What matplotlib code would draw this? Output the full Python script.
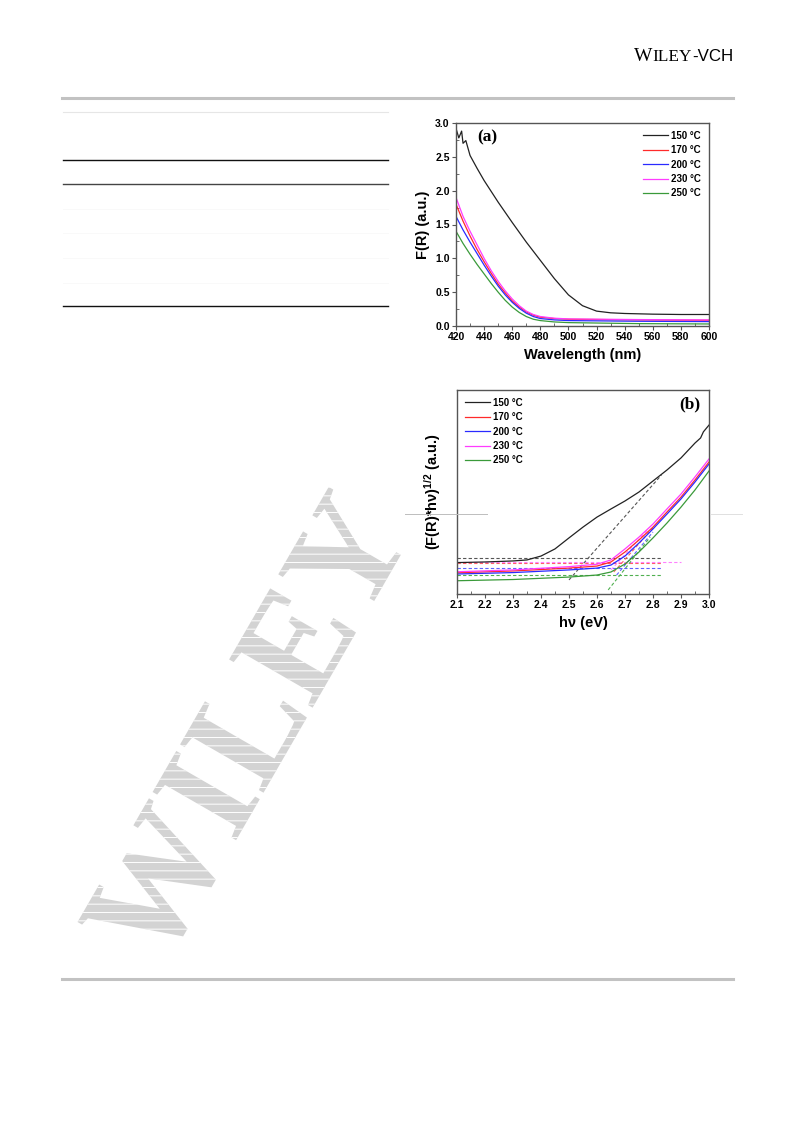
import matplotlib
matplotlib.use('Agg')
import matplotlib.pyplot as plt
import matplotlib.patheffects as pe
from matplotlib.lines import Line2D
from matplotlib.ticker import MultipleLocator

# ---------------- data ----------------
labels = ['150 °C', '170 °C', '200 °C', '230 °C', '250 °C']
colors = ['#222222', '#ff2a2a', '#2a2aff', '#ff3cff', '#3a9a3a']
fit_colors = ['#555555', '#ff6060', '#6060ff', '#ff80ff', '#50b050']

# panel (a): F(R) vs wavelength
wl_150 = [420, 422, 424, 425, 427, 430, 435, 440, 450, 460, 470, 480, 490, 500, 510, 520, 530, 540, 560, 580, 600]
fr_150 = [2.92, 2.78, 2.88, 2.70, 2.74, 2.52, 2.33, 2.15, 1.83, 1.53, 1.24, 0.97, 0.70, 0.46, 0.30, 0.22, 0.195, 0.185, 0.175, 0.17, 0.17]
wl_col = [420, 425, 430, 435, 440, 445, 450, 455, 460, 465, 470, 475, 480, 490, 500, 550, 600]
fr_170 = [1.80, 1.55, 1.33, 1.13, 0.95, 0.78, 0.62, 0.49, 0.37, 0.28, 0.21, 0.16, 0.13, 0.11, 0.10, 0.09, 0.085]
fr_200 = [1.62, 1.42, 1.24, 1.07, 0.90, 0.74, 0.59, 0.46, 0.35, 0.26, 0.19, 0.14, 0.11, 0.09, 0.08, 0.07, 0.065]
fr_230 = [1.90, 1.62, 1.40, 1.20, 1.00, 0.82, 0.66, 0.52, 0.40, 0.30, 0.22, 0.17, 0.14, 0.115, 0.105, 0.095, 0.09]
fr_250 = [1.40, 1.22, 1.06, 0.91, 0.77, 0.63, 0.50, 0.38, 0.28, 0.20, 0.14, 0.10, 0.08, 0.06, 0.05, 0.035, 0.03]

# panel (b): Tauc plot (arbitrary units)
ev_150 = [2.10, 2.20, 2.30, 2.35, 2.40, 2.45, 2.50, 2.55, 2.60, 2.65, 2.70, 2.75, 2.80, 2.85, 2.90, 2.95, 2.97, 2.98, 3.00]
t_150 = [15.4, 15.7, 16.2, 16.7, 18.6, 22.1, 27.5, 32.8, 37.7, 41.7, 45.6, 50.0, 55.4, 60.8, 66.7, 74.0, 76.5, 79.5, 82.8]
ev_col = [2.10, 2.30, 2.50, 2.60, 2.65, 2.70, 2.75, 2.80, 2.85, 2.90, 2.95, 3.00]
t_170 = [10.4, 11.3, 12.7, 13.7, 15.7, 20.6, 26.5, 32.8, 40.2, 47.5, 55.9, 64.7]
t_200 = [9.8, 10.5, 11.8, 12.7, 14.2, 18.6, 25.0, 31.9, 39.2, 46.6, 54.9, 63.7]
t_230 = [10.9, 11.8, 13.4, 14.6, 16.7, 22.1, 27.9, 34.3, 41.7, 49.0, 57.4, 66.2]
t_250 = [6.5, 7.1, 8.3, 9.3, 10.8, 14.7, 20.6, 27.5, 34.8, 42.6, 51.0, 60.3]

# baseline fits (x start, x end, level) and tangent fits ((x0, y0), (x1, y1))
base_x0 = [2.10, 2.10, 2.10, 2.10, 2.10]
base_x1 = [2.83, 2.83, 2.83, 2.90, 2.83]
base_y = [17.6, 15.2, 12.7, 15.9, 9.3]
tan_x0 = [2.50, 2.66, 2.67, 2.65, 2.64]
tan_y0 = [6.9, 10.8, 9.3, 11.8, 2.0]
tan_x1 = [2.83, 2.80, 2.80, 2.78, 2.79]
tan_y1 = [58.3, 32.4, 30.4, 31.4, 27.9]

# ---------------- style ----------------
plt.rcParams['font.family'] = ['Liberation Sans', 'DejaVu Sans']
plt.rcParams['mathtext.fontset'] = 'custom'
plt.rcParams['mathtext.rm'] = 'Liberation Sans:bold'
plt.rcParams['mathtext.it'] = 'Liberation Sans:bold'
plt.rcParams['mathtext.bf'] = 'Liberation Sans:bold'
plt.rcParams['mathtext.default'] = 'rm'
plt.rcParams['hatch.linewidth'] = 0.7

W, H = 793, 1121
fig = plt.figure(figsize=(W / 100, H / 100), dpi=100)
fig.patch.set_facecolor('white')


def fx(px):
    return px / W


def fy(py):
    return 1 - py / H


def hline(x0, x1, y, color, lw, z=5):
    fig.add_artist(Line2D([fx(x0), fx(x1)], [fy(y), fy(y)], color=color, lw=lw, zorder=z))


# page decorations
hline(62, 733, 97.5, '#c2c2c2', 2.2)
hline(63, 388, 111.5, '#e6e6e6', 0.8)
hline(63, 388, 159.5, '#111111', 1.0)
hline(63, 388, 184.5, '#444444', 1.0)
for yy in (209, 233, 258, 283):
    hline(63, 388, yy, '#f8f8f8', 0.6)
hline(63, 388, 306, '#111111', 1.0)
hline(62, 733, 979, '#c2c2c2', 2.2)

# watermark (real text, hatched fill)
fig.text(fx(160), fy(972), 'WILEY', family='Liberation Serif', fontweight='bold',
         fontsize=106, rotation=60, rotation_mode='anchor', ha='left', va='baseline',
         color='#d3d3d3', zorder=0,
         path_effects=[pe.PathPatchEffect(facecolor='#d3d3d3', edgecolor='white',
                                          linewidth=0, hatch='--')])

# header WILEY-VCH
r = fig.canvas.get_renderer()
pieces = [('W', 14.0, 'Liberation Serif'), ('ILEY', 12.4, 'Liberation Serif'), ('-VCH', 12.2, 'Liberation Sans')]
widths = []
for txt, fs, fam in pieces:
    t = fig.text(0, 0, txt, fontsize=fs, family=fam)
    widths.append(t.get_window_extent(r).width)
    t.remove()
x = 733.0 - sum(widths)
for (txt, fs, fam), w in zip(pieces, widths):
    fig.text(fx(x), fy(61), txt, fontsize=fs, family=fam, color='black', va='baseline', ha='left')
    x += w

tick_fs = 7.5
lab_fs = 10.5


def style_axes(ax):
    for s in ax.spines.values():
        s.set_color('#555555')
        s.set_linewidth(1.0)
    ax.tick_params(which='major', direction='out', length=3, width=0.8, color='#555555',
                   labelsize=tick_fs, pad=1.5, top=False, right=False)
    ax.tick_params(which='minor', direction='in', length=2, width=0.6, color='#555555',
                   top=False, right=False)
    for lbl in ax.get_xticklabels() + ax.get_yticklabels():
        lbl.set_fontweight('bold')


# ---------------- panel (a) ----------------
axa = fig.add_axes([fx(456), fy(326), (709 - 456) / W, (326 - 123) / H])
axa.set_facecolor('white')
axa.set_zorder(3)
ser_a = [(wl_150, fr_150), (wl_col, fr_170), (wl_col, fr_200), (wl_col, fr_230), (wl_col, fr_250)]
for (xx, yy), c, lab in zip(ser_a, colors, labels):
    axa.plot(xx, yy, color=c, lw=0.9, label=lab)
axa.set_xlim(420, 600)
axa.set_ylim(0, 3.0)
axa.xaxis.set_major_locator(MultipleLocator(20))
axa.xaxis.set_minor_locator(MultipleLocator(10))
axa.yaxis.set_major_locator(MultipleLocator(0.5))
axa.yaxis.set_minor_locator(MultipleLocator(0.25))
style_axes(axa)
axa.set_xlabel('Wavelength (nm)', fontsize=lab_fs, fontweight='bold', labelpad=4)
axa.set_ylabel('F(R) (a.u.)', fontsize=lab_fs, fontweight='bold', labelpad=4)
axa.text(0.085, 0.93, '(a)', transform=axa.transAxes, family='Liberation Serif',
         fontweight='bold', fontsize=12.5, va='center', ha='left')
leg = axa.legend(loc='upper right', frameon=False, fontsize=7, handlelength=2.6,
                 handletextpad=0.3, labelspacing=0.45, borderaxespad=0.4)
for t in leg.get_texts():
    t.set_fontweight('bold')

# ---------------- panel (b) ----------------
axb = fig.add_axes([fx(457), fy(594), (709 - 457) / W, (594 - 390) / H])
axb.set_facecolor('white')
axb.set_zorder(3)
for x0, x1, yb, c in zip(base_x0, base_x1, base_y, fit_colors):
    axb.plot([x0, x1], [yb, yb], color=c, lw=0.8, ls=(0, (3, 2)))
for xa, ya, xb, yb, c in zip(tan_x0, tan_y0, tan_x1, tan_y1, fit_colors):
    axb.plot([xa, xb], [ya, yb], color=c, lw=0.8, ls=(0, (3, 2)))
ser_b = [(ev_150, t_150), (ev_col, t_170), (ev_col, t_200), (ev_col, t_230), (ev_col, t_250)]
for (xx, yy), c, lab in zip(ser_b, colors, labels):
    axb.plot(xx, yy, color=c, lw=0.9, label=lab)
axb.set_xlim(2.1, 3.0)
axb.set_ylim(0, 100)
axb.xaxis.set_major_locator(MultipleLocator(0.1))
axb.xaxis.set_minor_locator(MultipleLocator(0.05))
style_axes(axb)
axb.set_yticks([])
axb.set_xlabel('hν (eV)', fontsize=lab_fs, fontweight='bold', labelpad=4)
axb.set_ylabel('(F(R)*hν)$^{1/2}$ (a.u.)', fontsize=lab_fs, fontweight='bold', labelpad=10)
axb.text(0.88, 0.93, '(b)', transform=axb.transAxes, family='Liberation Serif',
         fontweight='bold', fontsize=12.5, va='center', ha='left')
legb = axb.legend(loc='upper left', frameon=False, fontsize=7, handlelength=2.6,
                  handletextpad=0.3, labelspacing=0.45, borderaxespad=0.4)
for t in legb.get_texts():
    t.set_fontweight('bold')

# stray scan line artifacts
hline(405, 487, 514, '#bdbdbd', 0.7, z=10)
hline(710, 742, 514, '#e0e0e0', 0.7, z=10)

fig.savefig('out.png', dpi=100, facecolor='white')
